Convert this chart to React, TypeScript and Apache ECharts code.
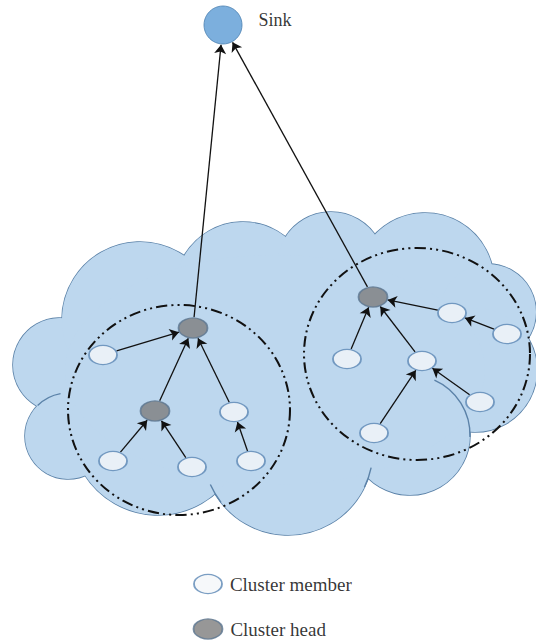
import React, { useEffect, useRef } from "react";
import * as echarts from "echarts";

const W = 536;
const H = 642;

// Nodes of the network (pixel-like diagram coordinates)
const nodeIds = ["sink", "h1", "h2", "h3", "m1", "m2", "m3", "m4", "m5", "m6", "m7", "m8", "m9", "m10", "m11"];
const nodeX = [223, 193, 155, 373, 103, 234, 113, 192, 251, 452, 507, 347, 422, 480, 374];
const nodeY = [25, 328, 411, 297, 355, 412, 461, 467, 461, 313, 334, 359, 361, 402, 433];
const nodeKind = ["sink", "head", "head", "head", "member", "member", "member", "member", "member", "member", "member", "member", "member", "member", "member"];

// Directed links: child -> parent
const edges = [
  ["h1", "sink"], ["h3", "sink"],
  ["m1", "h1"], ["h2", "h1"], ["m2", "h1"],
  ["m3", "h2"], ["m4", "h2"], ["m5", "m2"],
  ["m8", "h3"], ["m9", "h3"], ["m6", "h3"], ["m7", "m6"],
  ["m11", "m9"], ["m10", "m9"],
];

// Cloud bumps: [cx, cy, r]
const cloudBumps = [
  [60, 365, 47],
  [68, 436, 43],
  [140, 320, 78],
  [243, 290, 68],
  [331, 266, 54],
  [425, 282, 69],
  [488, 312, 48],
  [475, 370, 62],
  [410, 435, 60],
  [288, 450, 85],
  [158, 428, 87],
];
// Interior filler of the cloud: [cx, cy, w, h]
const cloudCore = [[275, 370, 420, 230]];
// Inner cloud seams: [bump index, start angle deg, end angle deg]
const innerSeams = [
  [8, -66, 2],
  [9, 12, 26],
  [9, 142, 156],
  [1, -135, -100],
];

// Cluster boundaries: [cx, cy, w, h]
const clusterRings = [
  [179, 410, 222, 210],
  [417, 354, 226, 212],
];

const legendItems = ["Cluster member", "Cluster head"];
const legendY = [584, 629];
const legendX = 208;

const sizeOf: Record<string, number[]> = {
  sink: [38, 38],
  head: [29, 20],
  member: [28, 19],
};

export default function App() {
  const ref = useRef<HTMLDivElement>(null);
  useEffect(() => {
    if (!ref.current) return;
    const chart = echarts.init(ref.current, undefined, { renderer: "svg" });

    const idx = (id: string) => nodeIds.indexOf(id);
    const rad = (kind: string, ux: number, uy: number) => {
      const s = sizeOf[kind];
      const rx = s[0] / 2 + 0.8;
      const ry = s[1] / 2 + 0.8;
      return 1 / Math.sqrt((ux / rx) ** 2 + (uy / ry) ** 2);
    };
    const lineData = edges.map(([a, b]) => {
      const ia = idx(a);
      const ib = idx(b);
      const ax = nodeX[ia], ay = nodeY[ia], bx = nodeX[ib], by = nodeY[ib];
      const dx = bx - ax, dy = by - ay;
      const len = Math.sqrt(dx * dx + dy * dy);
      const ux = dx / len, uy = dy / len;
      const ra = rad(nodeKind[ia], ux, uy);
      const rb = rad(nodeKind[ib], ux, uy);
      return {
        coords: [
          [ax + ux * ra, ay + uy * ra],
          [bx - ux * rb, by - uy * rb],
        ],
      };
    });

    const styleOf: Record<string, any> = {
      sink: { color: "#5b9bd5", borderColor: "#4a7fb0", borderWidth: 1 },
      head: { color: "#7d7d7d", borderColor: "#5b7690", borderWidth: 1.5 },
      member: { color: "#f4f6f9", borderColor: "#5a86b4", borderWidth: 1.5 },
    };

    const nodeData = nodeIds.map((id, i) => ({
      name: id,
      value: [nodeX[i], nodeY[i]],
      symbolSize: sizeOf[nodeKind[i]],
      itemStyle: styleOf[nodeKind[i]],
      label:
        id === "sink"
          ? {
              show: true,
              position: "right",
              distance: 16,
              offset: [0, -5],
              formatter: "Sink",
              fontFamily: "Liberation Serif",
              fontSize: 18,
              color: "#000",
            }
          : { show: false },
    }));

    const legendData = legendItems.map((name, i) => ({
      name,
      value: [legendX, legendY[i]],
      symbolSize: i === 0 ? sizeOf.member : sizeOf.head,
      itemStyle: i === 0 ? styleOf.member : styleOf.head,
    }));

    const cloudData = cloudBumps.map((c) => ({ value: [c[0], c[1]], symbolSize: c[2] * 2 }));
    const coreData = cloudCore.map((c) => ({ value: [c[0], c[1]], symbolSize: [c[2], c[3]] }));
    const ringData = clusterRings.map((c) => ({ value: [c[0], c[1]], symbolSize: [c[2], c[3]] }));

    const common = {
      type: "scatter",
      symbol: "circle",
      silent: true,
      clip: false,
      emphasis: { disabled: true },
    };

    chart.setOption({
      animation: false,
      grid: { left: 0, right: 0, top: 0, bottom: 0, containLabel: false },
      xAxis: { type: "value", min: 0, max: W, show: false },
      yAxis: { type: "value", min: 0, max: H, inverse: true, show: false },
      series: [
        {
          ...common,
          name: "cloudOutline",
          z: 1,
          data: cloudData,
          itemStyle: { color: "#bdd7ee", borderColor: "#5b82a8", borderWidth: 1.6, opacity: 1 },
        },
        {
          ...common,
          name: "cloudFill",
          z: 2,
          data: cloudData,
          itemStyle: { color: "#bdd7ee", borderWidth: 0, opacity: 1 },
        },
        {
          ...common,
          name: "cloudCore",
          z: 2,
          data: coreData,
          itemStyle: { color: "#bdd7ee", borderWidth: 0, opacity: 1 },
        },
        {
          ...common,
          name: "clusters",
          z: 4,
          data: ringData,
          itemStyle: {
            color: "rgba(0,0,0,0)",
            borderColor: "#111",
            borderWidth: 2,
            borderType: [11, 4, 2, 4, 2, 4],
            opacity: 1,
          },
        },
        {
          type: "lines",
          coordinateSystem: "cartesian2d",
          silent: true,
          z: 5,
          symbol: ["none", "arrow"],
          symbolSize: 9,
          lineStyle: { color: "#111", width: 1.3, opacity: 1, curveness: 0 },
          data: lineData,
        },
        {
          ...common,
          name: "nodes",
          z: 6,
          data: nodeData,
        },
        {
          ...common,
          name: "legend",
          z: 6,
          data: legendData,
          label: {
            show: true,
            position: "right",
            distance: 7,
            formatter: (p: any) => p.name,
            fontFamily: "Liberation Serif",
            fontSize: 19,
            color: "#000",
          },
        },
      ],
    });

    // inner seams of the cloud shape, positioned through the axes
    const seams = innerSeams.map(([bi, a0, a1]) => {
      const b = cloudBumps[bi];
      const c = chart.convertToPixel({ gridIndex: 0 }, [b[0], b[1]]) as number[];
      const e = chart.convertToPixel({ gridIndex: 0 }, [b[0] + b[2], b[1]]) as number[];
      return {
        type: "arc",
        silent: true,
        z: 3,
        shape: {
          cx: c[0],
          cy: c[1],
          r: Math.abs(e[0] - c[0]),
          startAngle: (a0 * Math.PI) / 180,
          endAngle: (a1 * Math.PI) / 180,
          clockwise: true,
        },
        style: { stroke: "#5b82a8", lineWidth: 1.4, fill: "none" },
      };
    });
    chart.setOption({ graphic: seams });

    return () => chart.dispose();
  }, []);

  return (
    <div
      ref={ref}
      style={{ position: "fixed", left: 0, top: 0, width: W, height: H, background: "#fff" }}
    />
  );
}
